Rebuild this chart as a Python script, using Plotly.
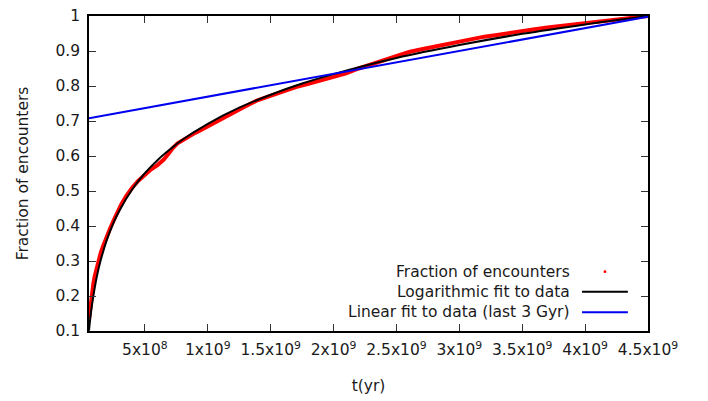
import plotly.graph_objects as go

# encounter data: time (Gyr) and cumulative fraction
t_data = [0.056, 0.06, 0.065, 0.07, 0.08, 0.09, 0.10, 0.11, 0.12, 0.135, 0.15, 0.165,
          0.18, 0.20, 0.22, 0.25, 0.28, 0.31, 0.35, 0.40, 0.45, 0.50, 0.55, 0.60, 0.65,
          0.70, 0.72, 0.76, 0.82, 0.90, 0.95, 1.0, 1.05, 1.10, 1.15, 1.20, 1.30, 1.40,
          1.50, 1.60, 1.70, 1.80, 1.90, 2.00, 2.10, 2.20, 2.30, 2.40, 2.50, 2.60, 2.70,
          2.80, 2.90, 3.00, 3.10, 3.20, 3.30, 3.40, 3.50, 3.60, 3.70, 3.80, 3.90, 4.00,
          4.10, 4.20, 4.30, 4.40, 4.50]
frac_data = [0.135, 0.15, 0.17, 0.185, 0.21, 0.235, 0.255, 0.27, 0.285, 0.305, 0.325, 0.34,
             0.355, 0.375, 0.39, 0.415, 0.44, 0.46, 0.485, 0.51, 0.53, 0.548, 0.562, 0.574, 0.59,
             0.612, 0.622, 0.636, 0.650, 0.666, 0.675, 0.685, 0.693, 0.702, 0.713, 0.724, 0.742, 0.760,
             0.773, 0.787, 0.797, 0.806, 0.816, 0.826, 0.836, 0.850, 0.862, 0.876, 0.888, 0.897, 0.905,
             0.912, 0.920, 0.928, 0.935, 0.941, 0.946, 0.952, 0.957, 0.962, 0.967, 0.971, 0.975, 0.979,
             0.984, 0.988, 0.992, 0.996, 1.000]

# logarithmic fit curve
t_log = [0.0556, 0.06, 0.07, 0.08, 0.10, 0.12, 0.15, 0.20, 0.25, 0.30, 0.40, 0.50, 0.60,
         0.70, 0.80, 1.0, 1.25, 1.5, 1.75, 2.0, 2.5, 3.0, 3.5, 4.0, 4.5]
frac_log = [0.101, 0.117, 0.149, 0.176, 0.221, 0.259, 0.304, 0.363, 0.409, 0.446, 0.505, 0.551, 0.588,
            0.619, 0.647, 0.692, 0.738, 0.775, 0.807, 0.834, 0.880, 0.917, 0.949, 0.976, 1.0]

# linear fit (last 3 Gyr), drawn over whole range
t_lin = [0.0556, 4.5]
frac_lin = [0.708, 0.998]

x_ticks = [0.5, 1, 1.5, 2, 2.5, 3, 3.5, 4, 4.5]
x_ticktext = ["5x10<sup>8</sup>", "1x10<sup>9</sup>", "1.5x10<sup>9</sup>", "2x10<sup>9</sup>",
              "2.5x10<sup>9</sup>", "3x10<sup>9</sup>", "3.5x10<sup>9</sup>", "4x10<sup>9</sup>",
              "4.5x10<sup>9</sup>"]
y_ticks = [0.1, 0.2, 0.3, 0.4, 0.5, 0.6, 0.7, 0.8, 0.9, 1.0]
y_ticktext = ["0.1", "0.2", "0.3", "0.4", "0.5", "0.6", "0.7", "0.8", "0.9", "1"]

legend_names = ["Fraction of encounters", "Logarithmic fit to data", "Linear fit to data (last 3 Gyr)"]

FONT = "DejaVu Sans"
FS = 15.5
TXT = "#1a1a1a"
GYR = 1e9

fig = go.Figure()
fig.add_trace(go.Scatter(x=[t * GYR for t in t_data], y=frac_data, mode="lines",
                         line=dict(color="#ff0000", width=4), showlegend=False))
fig.add_trace(go.Scatter(x=[t * GYR for t in t_log], y=frac_log, mode="lines",
                         line=dict(color="black", width=2, shape="spline"), showlegend=False))
fig.add_trace(go.Scatter(x=[t * GYR for t in t_lin], y=frac_lin, mode="lines",
                         line=dict(color="#0000ee", width=2), showlegend=False))

# gnuplot style key: text right aligned, sample to the right
key_y = [0.1883, 0.1248, 0.0594]
for name, ky in zip(legend_names, key_y):
    fig.add_annotation(x=0.864, y=ky, xref="paper", yref="paper", text=name, showarrow=False,
                       xanchor="right", yanchor="middle", font=dict(family=FONT, size=FS, color=TXT))
fig.add_shape(type="circle", xref="paper", yref="paper", x0=0.9205, x1=0.9255,
              y0=key_y[0] - 0.0045, y1=key_y[0] + 0.0045, fillcolor="#ff0000", line=dict(width=0))
fig.add_shape(type="line", xref="paper", yref="paper", x0=0.882, x1=0.964, y0=key_y[1], y1=key_y[1],
              line=dict(color="black", width=2))
fig.add_shape(type="line", xref="paper", yref="paper", x0=0.882, x1=0.964, y0=key_y[2], y1=key_y[2],
              line=dict(color="#0000ee", width=2))

axis_common = dict(showline=True, linecolor="black", linewidth=1.5, mirror="ticks", ticks="inside",
                   ticklen=7, tickcolor="#333", tickwidth=1, showgrid=False, zeroline=False,
                   automargin=False, ticklabeloverflow="allow",
                   tickfont=dict(family=FONT, size=FS, color=TXT))
fig.update_xaxes(range=[0.0556 * GYR, 4.5 * GYR], tickvals=[t * GYR for t in x_ticks],
                 ticktext=x_ticktext, ticklabelstandoff=4,
                 title=dict(text="t(yr)", font=dict(family=FONT, size=FS, color=TXT), standoff=22),
                 **axis_common)
fig.update_yaxes(range=[0.1, 1.0], tickvals=y_ticks, ticktext=y_ticktext, ticklabelstandoff=4,
                 title=dict(text="Fraction of encounters", font=dict(family=FONT, size=FS, color=TXT),
                            standoff=23),
                 **axis_common)
# page body adds an 8px offset, so margins are shifted accordingly
fig.update_layout(width=708, height=401, margin=dict(l=81, r=68, t=8, b=78),
                  plot_bgcolor="white", paper_bgcolor="white", showlegend=False)
fig.write_html("out.html")
